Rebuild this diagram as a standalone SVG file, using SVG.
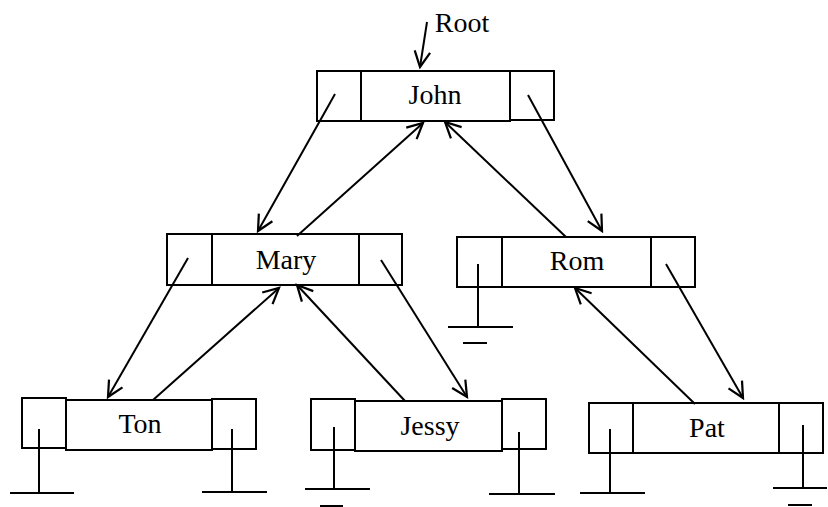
<svg xmlns="http://www.w3.org/2000/svg" width="828" height="507" viewBox="0 0 828 507">
<defs>
<style>
.b{fill:#fff;stroke:#000;stroke-width:2}
.g{stroke:#000;stroke-width:2;fill:none}
.c{stroke:#000;stroke-width:2;fill:none;marker-end:url(#ah)}
.t{font-family:"Liberation Serif","Times New Roman",serif;font-size:28px;fill:#000;text-anchor:middle}
</style>
<marker id="ah" markerUnits="userSpaceOnUse" markerWidth="20" markerHeight="20" viewBox="-16 -9 18 18" refX="0" refY="0" orient="auto">
<path d="M-14,-7 L0,0 L-14,7" fill="none" stroke="#000" stroke-width="2"/>
</marker>
</defs>
<rect width="828" height="507" fill="#fff"/>

<g id="root-label">
<text class="t" x="462" y="32">Root</text>
</g>

<g id="john">
<rect class="b" x="317" y="71" width="44" height="50"/>
<rect class="b" x="361" y="71" width="149" height="50"/>
<rect class="b" x="510" y="71" width="44" height="49"/>
<text class="t" x="435" y="104">John</text>
</g>

<g id="mary">
<rect class="b" x="167" y="234" width="45" height="51"/>
<rect class="b" x="212" y="234" width="147" height="51"/>
<rect class="b" x="359" y="234" width="43" height="51"/>
<text class="t" x="286" y="269">Mary</text>
</g>

<g id="rom">
<rect class="b" x="457" y="237" width="45" height="50"/>
<rect class="b" x="502" y="237" width="149" height="50"/>
<rect class="b" x="651" y="237" width="44" height="50"/>
<text class="t" x="577" y="270">Rom</text>
<path class="g" d="M478,264 V327 M448,327 H513 M463,343 H487"/>
</g>

<g id="ton">
<rect class="b" x="22" y="398" width="44" height="50"/>
<rect class="b" x="66" y="400" width="146" height="50"/>
<rect class="b" x="212" y="399" width="44" height="50"/>
<text class="t" x="140" y="433">Ton</text>
<path class="g" d="M39,429 V493 M10,493 H74 M232,429 V492 M202,492 H267"/>
</g>

<g id="jessy">
<rect class="b" x="311" y="399" width="44" height="51"/>
<rect class="b" x="355" y="401" width="147" height="50"/>
<rect class="b" x="502" y="399" width="44" height="50"/>
<text class="t" x="430" y="435">Jessy</text>
<path class="g" d="M334,427 V489 M305,489 H370 M320,506 H343 M519,432 V494 M489,494 H555"/>
</g>

<g id="pat">
<rect class="b" x="589" y="403" width="44" height="50"/>
<rect class="b" x="633" y="403" width="146" height="50"/>
<rect class="b" x="779" y="403" width="44" height="50"/>
<text class="t" x="707" y="437">Pat</text>
<path class="g" d="M610,429 V493 M580,493 H645 M803,425 V488 M773,488 H827 M788,505 H812"/>
</g>

<g id="connectors">
<line class="c" x1="427" y1="22" x2="420" y2="67"/>
<line class="c" x1="335" y1="94" x2="258" y2="231"/>
<line class="c" x1="297" y1="236" x2="423" y2="123"/>
<line class="c" x1="566" y1="237" x2="445" y2="122"/>
<line class="c" x1="528" y1="95" x2="602" y2="231"/>
<line class="c" x1="188" y1="258" x2="108" y2="397"/>
<line class="c" x1="153" y1="400" x2="279" y2="288"/>
<line class="c" x1="405" y1="401" x2="297" y2="285"/>
<line class="c" x1="381" y1="260" x2="467" y2="397"/>
<line class="c" x1="695" y1="404" x2="575" y2="288"/>
<line class="c" x1="666" y1="264" x2="743" y2="398"/>
</g>
</svg>
